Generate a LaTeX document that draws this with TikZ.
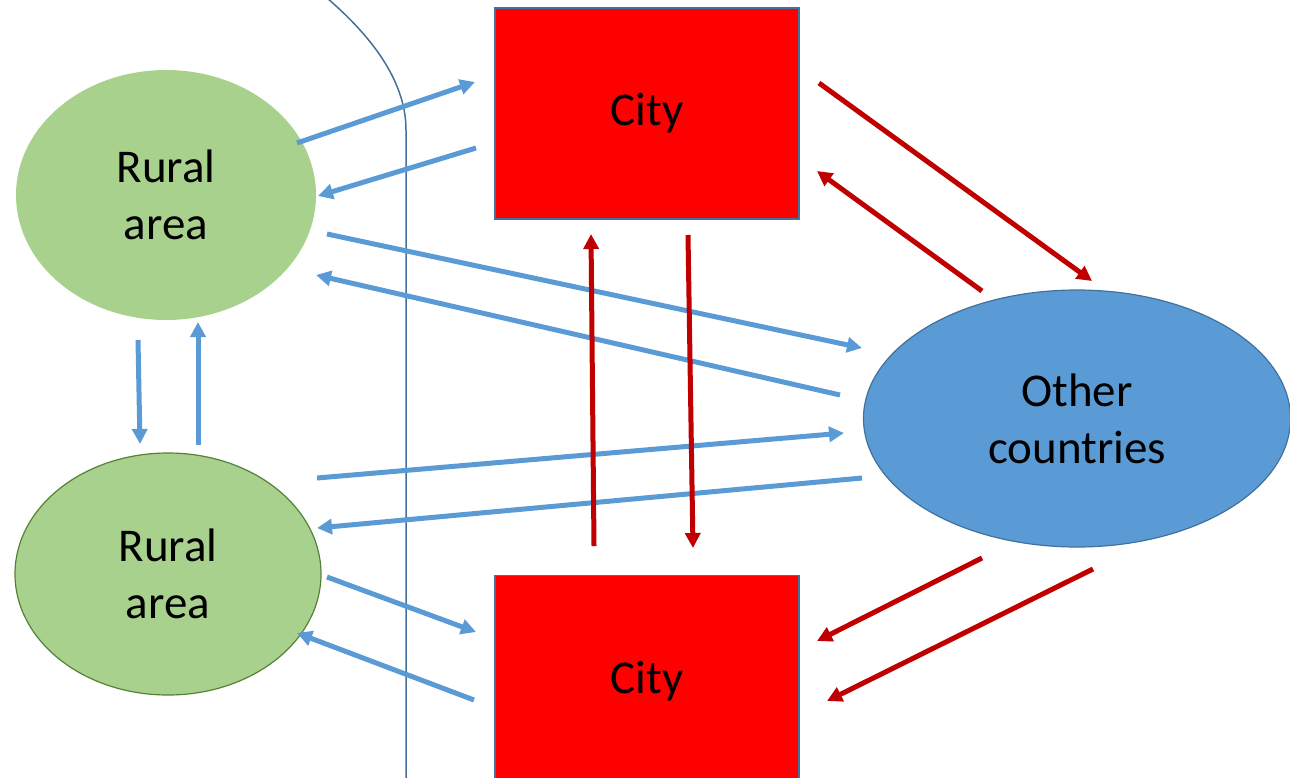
\documentclass[tikz,border=0pt]{standalone}
\usepackage{fontspec}
\setmainfont{Carlito}
\usetikzlibrary{shapes.geometric,arrows.meta}
\definecolor{ruralgreen}{HTML}{A9D18E}
\definecolor{ruralborder}{HTML}{548235}
\definecolor{othblue}{HTML}{5B9BD5}
\definecolor{edgeblue}{HTML}{41719C}
\definecolor{darkred}{HTML}{C00000}
\tikzset{
  lbl/.style={font=\fontsize{47}{57}\selectfont, align=center, text=black},
  rural/.style={ellipse, fill=ruralgreen, minimum width=300pt, minimum height=250pt, inner sep=0pt, lbl},
  citybox/.style={rectangle, fill=red, draw=edgeblue, line width=1.5pt, minimum width=304pt, minimum height=211pt, inner sep=0pt, lbl},
  bluearrow/.style={draw=othblue, line width=5pt, -{Triangle[length=15pt,width=15pt]}},
  redarrow/.style={draw=darkred, line width=5pt, -{Triangle[length=15pt,width=15pt]}},
}
\begin{document}
\begin{tikzpicture}[x=1pt,y=-1pt]
\useasboundingbox (0,0) rectangle (1290,777);
\clip (0,0) rectangle (1290,777);
% boundary
\draw[edgeblue, line width=1.5pt] (327,-2) .. controls (370,35) and (406,80) .. (406,130) -- (406,780);
% nodes
\node[rural] (r1) at (166,195) {Rural\\area};
\node[rural, draw=ruralborder, line width=1.2pt, minimum width=306pt, minimum height=242pt] (r2) at (168,574) {Rural\\area};
\node[citybox] (c1) at (647,113.5) {City};
\node[citybox] (c2) at (647,681) {City};
\node[ellipse, fill=othblue, draw=edgeblue, line width=1.2pt, minimum width=427pt, minimum height=257pt, inner sep=0pt, lbl] (oc) at (1077,418.5) {Other\\countries};
% endpoints
\coordinate (b1s) at (297,143); \coordinate (b1e) at (475,82);
\coordinate (b2s) at (476,148); \coordinate (b2e) at (318,196);
\coordinate (b3s) at (327,234); \coordinate (b3e) at (862,348);
\coordinate (b4s) at (840,395); \coordinate (b4e) at (316,275);
\coordinate (b5s) at (138,340); \coordinate (b5e) at (140,444);
\coordinate (b6s) at (198,445); \coordinate (b6e) at (198,322);
\coordinate (b7s) at (317,478); \coordinate (b7e) at (844,433);
\coordinate (b8s) at (862,478); \coordinate (b8e) at (317,528);
\coordinate (b9s) at (327,577); \coordinate (b9e) at (476,632);
\coordinate (b10s) at (474,700); \coordinate (b10e) at (297,633);
\coordinate (r1s) at (819,83); \coordinate (r1e) at (1092,281);
\coordinate (r2s) at (982,291); \coordinate (r2e) at (817,171);
\coordinate (r3s) at (594,546); \coordinate (r3e) at (591,234);
\coordinate (r4s) at (688,235); \coordinate (r4e) at (693,548);
\coordinate (r5s) at (982,558); \coordinate (r5e) at (817,641);
\coordinate (r6s) at (1093,569); \coordinate (r6e) at (827,701);
% blue arrows
\draw[bluearrow] (b1s) -- (b1e);
\draw[bluearrow] (b2s) -- (b2e);
\draw[bluearrow] (b3s) -- (b3e);
\draw[bluearrow] (b4s) -- (b4e);
\draw[bluearrow] (b5s) -- (b5e);
\draw[bluearrow] (b6s) -- (b6e);
\draw[bluearrow] (b7s) -- (b7e);
\draw[bluearrow] (b8s) -- (b8e);
\draw[bluearrow] (b9s) -- (b9e);
\draw[bluearrow] (b10s) -- (b10e);
% red arrows
\draw[redarrow] (r1s) -- (r1e);
\draw[redarrow] (r2s) -- (r2e);
\draw[redarrow] (r3s) -- (r3e);
\draw[redarrow] (r4s) -- (r4e);
\draw[redarrow] (r5s) -- (r5e);
\draw[redarrow] (r6s) -- (r6e);
\end{tikzpicture}
\end{document}
